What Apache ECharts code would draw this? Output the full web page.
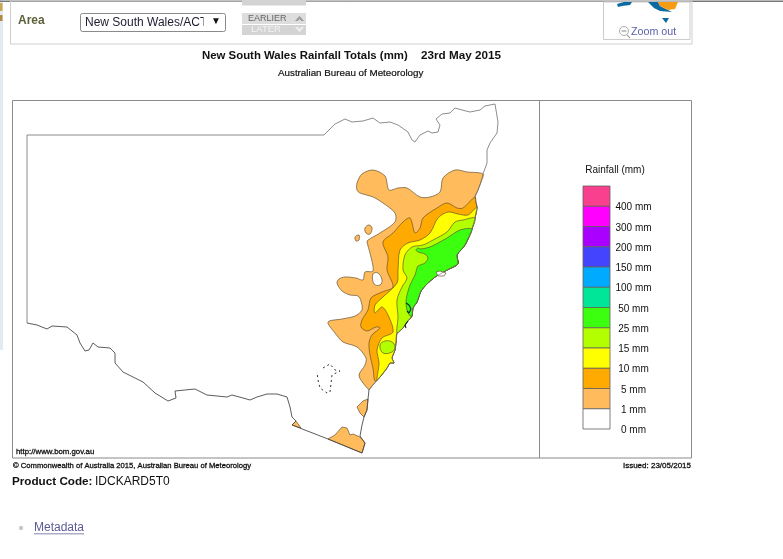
<!DOCTYPE html>
<html><head><meta charset="utf-8">
<style>html,body{margin:0;padding:0;background:#fff}#c{width:783px;height:559px}</style>
<script src="https://cdn.jsdelivr.net/npm/echarts@6/dist/echarts.min.js"></script>
</head><body><div id="c"></div>
<script>
// Map units: horizontal/vertical map position.
const statePart1 = [[27,323],[27,135],[324,135],[328,131],[335,124],[345,119],[352,122],[363,121],[373,118],[380,123],[390,122],[398,125],[408,132],[412,140],[415,142],[420,135],[428,131],[432,133],[438,132],[440,125],[436,119],[442,114],[450,113],[455,108],[462,110],[470,112],[480,110],[485,106],[495,104],[496,110],[498,122],[497,133],[490,143],[487,150],[487,163],[483,174]];
const coast = [[483,174],[481,182],[478,190],[475,197],[476,203],[477,207],[475,218],[472,229],[465,245],[457,255],[458,264],[447,270],[435,277],[427,284],[421,291],[417,302],[413,308],[412,316],[407,322],[403,328],[397,333],[396,342],[395,350],[392,358],[394,363],[390,363],[387,368],[380,377],[372,386],[369,390]];
const statePart2 = [[369,390],[368,399],[367,410],[364,417],[362,425],[360,436],[365,443],[362,453],[328,439],[292,425],[296,421],[292,417],[290,407],[287,397],[277,394],[267,394],[257,397],[250,400],[243,398],[232,395],[227,397],[207,395],[195,389],[175,391],[176,398],[168,401],[155,393],[143,382],[123,372],[115,363],[115,353],[110,348],[98,347],[93,343],[89,350],[85,351],[80,343],[77,335],[67,327],[52,326],[47,329],[37,325],[27,323]];
const actBorder = [[323,368],[330,364],[335,370],[340,371],[332,375],[330,392],[327,393],[320,388],[318,380],[317,372]];

const tanMainEdge = [[369,390],[363,383],[359,375],[365,365],[366,358],[357,347],[343,342],[335,333],[328,322],[342,319],[355,316],[362,310],[361,301],[358,296],[350,295],[342,291],[337,283],[339,279],[345,277],[356,278],[363,280],[365,272],[373,271],[370,253],[367,242],[368,240],[380,233],[395,222],[395,213],[383,203],[373,197],[360,193],[357,190],[357,183],[362,174],[373,170],[385,176],[389,190],[398,188],[407,188],[420,197],[430,197],[440,192],[443,178],[455,170],[467,172]];
const tanHole = [[373,274],[378,273],[382,280],[380,285],[374,284]];
const tanIsletA = [[365,228],[369,225],[372,228],[370,234],[366,233]];
const tanIsletB = [[355,237],[359,235],[359,240],[356,241]];
const tanMiddle = [[357,407],[363,401],[368,399],[367,410],[364,417],[360,413]];
const tanSouth = [[328,439],[335,435],[342,427],[347,428],[350,435],[353,434],[360,437],[365,443],[362,453]];
const tanWest = [[292,425],[296,421],[301,428]];
const orangeEdge = [[463,208],[457,208],[447,203],[437,208],[423,218],[420,228],[415,233],[410,218],[403,222],[393,233],[383,242],[388,257],[387,270],[393,287],[382,292],[371,298],[368,310],[362,320],[361,327],[367,331],[376,327],[380,328],[372,335],[369,343],[370,355],[373,368],[375,381]];
const yellowEdge = [[468,215],[458,214],[448,212],[438,218],[430,233],[420,240],[408,243],[400,250],[398,270],[397,283],[383,297],[375,305],[375,313],[382,307],[388,315],[393,332],[382,338],[377,350],[379,363],[377,380]];
const limeEdge = [[463,220],[455,222],[447,232],[433,240],[423,245],[412,247],[405,255],[403,270],[407,278],[402,287],[397,300],[398,317]];
const limeIslet = [[380,345],[385,341],[392,342],[395,347],[392,352],[383,353]];
const greenEdge = [[460,230],[447,238],[438,243],[430,247],[421,249],[418,248],[416,250],[418,252],[425,254],[428,258],[425,263],[418,266],[417,268],[415,275],[410,285],[407,295],[406,302],[407,310],[410,316]];
const newcastle = [[436,272],[440,271],[446,273],[444,276],[438,276]];
const sydneyMarkA = [[406,303],[409,305],[411,309],[409,313],[407,311]];
const sydneyMarkB = [[408,321],[405,325],[406,328]];

const legendEdges = [186,206.3,226.5,246.8,267,287.3,307.5,327.8,348,368.3,388.5,408.8,429];
const legendColors = ['#f9408f','#ff00ff','#aa00ff','#4444ff','#00aaff','#00e699','#3cff10','#b3ff00','#ffff00','#ffaa00','#ffbb5c','#ffffff'];
const legendLabels = ['400 mm','300 mm','200 mm','150 mm','100 mm','50 mm','25 mm','15 mm','10 mm','5 mm','1 mm','0 mm'];

const cs = (a,b)=>coast.slice(a,b+1);
const COL = {tan:'#ffbb5c',orange:'#ffaa00',yellow:'#ffff00',lime:'#b3ff00',green:'#3cff10'};
const EDGE='rgba(95,78,45,0.85)';
const polys = [
 [tanMainEdge.concat(cs(0,29)),COL.tan,0.3],
 [tanHole,'#ffffff',0.4],[tanIsletA,COL.tan,0.4],[tanIsletB,COL.tan,0.3],[tanMiddle,COL.tan,0],[tanSouth,COL.tan,0],[tanWest,COL.tan,0],
 [orangeEdge.concat(cs(3,27).reverse()),COL.orange,0.3],
 [yellowEdge.concat(cs(5,27).reverse()),COL.yellow,0.3],
 [limeEdge.concat(cs(6,20).reverse()),COL.lime,0.3],
 [limeIslet,COL.lime,0.4],
 [greenEdge.concat(cs(7,17).reverse()),COL.green,0.25],
 [newcastle,'#ffffff',0]
];
const polySeries = polys.map(([pts,fill,smooth])=>({
  type:'custom',coordinateSystem:'cartesian2d',data:pts,encode:{x:0,y:1},silent:true,
  renderItem:(p,api)=>p.dataIndex?null:{type:'polygon',shape:{points:pts.map(q=>api.coord(q)),smooth},style:{fill,stroke:EDGE,lineWidth:0.8}}
}));
const lineSeries = (pts,color,width,dash)=>({
  type:'line',data:pts,showSymbol:false,silent:true,animation:false,z:5,
  lineStyle:{color,width,type:dash||'solid'}
});
const legendSeries = {
  type:'custom',coordinateSystem:'cartesian2d',silent:true,z:6,
  data:legendColors.map((c,i)=>[583,legendEdges[i],610,legendEdges[i+1]]),
  encode:{x:[0,2],y:[1,3]},
  renderItem:(p,api)=>{
    const a=api.coord([api.value(0),api.value(1)]),b=api.coord([api.value(2),api.value(3)]);
    return {type:'rect',shape:{x:a[0],y:a[1],width:b[0]-a[0],height:b[1]-a[1]},
      style:{fill:legendColors[p.dataIndex],stroke:'#66605a',lineWidth:0.8}};
  }
};
const F='"Liberation Sans",Arial,sans-serif';
const T=(x,y,text,size,o={})=>({type:'text',x,y,silent:true,z:o.z||20,style:{text,font:`${o.bold?'bold ':''}${size}px ${F}`,fill:o.fill||'#111',textAlign:o.align||'left',textVerticalAlign:'middle',stroke:o.heavy?(o.fill||'#111'):undefined,lineWidth:o.heavy||0}});
const R=(x,y,w,h,fill,stroke,o={})=>({type:'rect',silent:true,z:o.z||10,shape:{x,y,width:w,height:h,r:o.r||0},style:{fill:fill||'none',stroke:stroke||'none',lineWidth:o.lw||1}});
const Poly=(pts,fill)=>({type:'polygon',silent:true,z:11,shape:{points:pts},style:{fill}});
const graphics=[
 R(0,0,3,350,'#e3ebf2'),R(0,3,2.5,8,'#c9a94e'),R(0,15,2.5,6,'#b08a3c'),
 R(0,0.5,783,1.5,'#777777'),
 R(10.5,1,681.5,43,'none','#cfcfcf'),
 T(18,20.5,'Area',12,{bold:true,fill:'#5d6139'}),
 R(80.5,13.5,145,18,'#fff','#8a8a8a',{r:2}),
 T(85,22.5,'New South Wales/ACT',12,{fill:'#1c1c30'}),
 R(203.5,15,10,15,'#fff',null,{z:21}),
 T(216,21.5,'▼',10,{fill:'#111',align:'center',z:22}),
 R(242,0,64,5.5,'#d3d3d3'),
 R(242,13,64,11,'#dddddd'),R(242,25,64,10,'#d4d4d4'),
 T(248,18.5,'EARLIER',9,{fill:'#666'}),
 T(251,29.8,'LATER',9.5,{fill:'#f4f4f4'}),
 Poly([[295,21],[299.5,16],[304,21],[301.5,21],[299.5,19],[297.5,21]],'#999'),
 Poly([[295,27],[299.5,32],[304,27],[301.5,27],[299.5,29],[297.5,27]],'#f0f0f0'),
 R(603.5,2,86.5,37.5,'#fff','#cccccc'),
 Poly([[617,4],[624,2],[632,2],[630,5],[622,6],[618,7]],'#0b6aa2'),
 Poly([[648,2],[658,2],[660,6],[668,10],[672,12],[660,11],[654,8]],'#0b6aa2'),
 Poly([[658,2],[678,2],[675,9],[668,10],[660,6]],'#f59b16'),
 Poly([[662,18],[669,18],[666,23]],'#0b6aa2'),
 {type:'circle',silent:true,z:11,shape:{cx:624,cy:31,r:4.5},style:{fill:'none',stroke:'#aaa',lineWidth:1}},
 {type:'line',silent:true,z:11,shape:{x1:627,y1:35,x2:630,y2:38},style:{stroke:'#aaa',lineWidth:1.2}},
 {type:'line',silent:true,z:11,shape:{x1:621.5,y1:31,x2:626.5,y2:31},style:{stroke:'#888',lineWidth:1}},
 T(631,32.5,'Zoom out',10.7,{fill:'#5a62aa'}),
 T(202,56,'New South Wales Rainfall Totals (mm)',11.4,{bold:true}),
 T(421,56,'23rd May 2015',11.7,{bold:true}),
 T(278,73.5,'Australian Bureau of Meteorology',9.8,{heavy:0.2}),
 R(12.5,100.5,679,357.5,'none','#8a8a8a',{z:9}),
 {type:'line',silent:true,z:9,shape:{x1:539.5,y1:100.5,x2:539.5,y2:458},style:{stroke:'#8a8a8a',lineWidth:1}},
 T(615,170,'Rainfall (mm)',10,{align:'center'}),
 T(16,452,'http://www.bom.gov.au',7.8,{heavy:0.3}),
 T(13,465.5,'© Commonwealth of Australia 2015, Australian Bureau of Meteorology',7.65,{heavy:0.3}),
 T(691,465.5,'Issued: 23/05/2015',8,{heavy:0.3,align:'right'}),
 T(12,482,'Product Code:',11.7,{bold:true}),
 T(95,482,'IDCKARD5T0',12),
 {type:'circle',silent:true,z:11,shape:{cx:21,cy:528,r:2.2},style:{fill:'#c8c8c8'}},
 T(34,527.5,'Metadata',12,{fill:'#5b5b96'}),
 R(34,533.5,50,0.8,'#5b5b96'),
];
legendLabels.forEach((l,i)=>graphics.push(T(633.5,legendEdges[i]+21.5,l,10,{align:'center'})));

const chart=echarts.init(document.getElementById('c'),null,{renderer:'canvas'});
chart.setOption({
 animation:false,backgroundColor:'#fff',
 grid:{left:0,right:0,top:0,bottom:0},
 xAxis:{type:'value',min:0,max:783,show:false},
 yAxis:{type:'value',min:0,max:559,inverse:true,show:false},
 series:[...polySeries,
  lineSeries(statePart1,'#808080',0.9),
  lineSeries(coast,'#666',0.6),
  lineSeries(statePart2,'#4a4a4a',0.9),
  lineSeries(actBorder,'#333',1,[2,3]),
  lineSeries(sydneyMarkA,'#223',1.1),
  lineSeries(sydneyMarkB,'#223',1.1),
  legendSeries],
 graphic:{elements:graphics}
});
</script></body></html>
